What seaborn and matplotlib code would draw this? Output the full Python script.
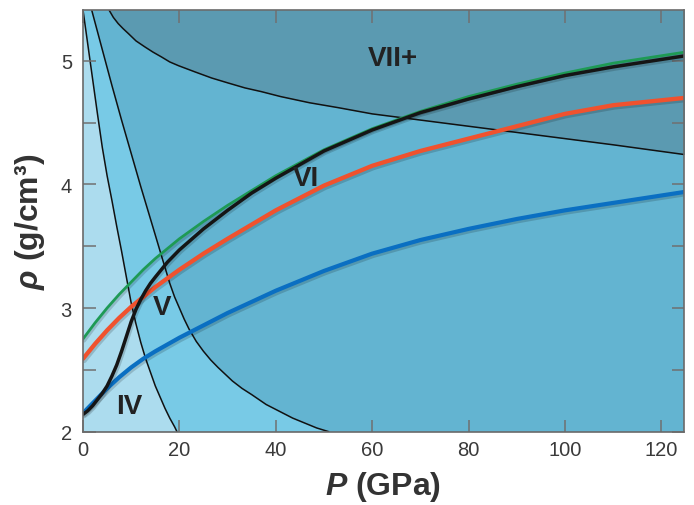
import numpy as np
import matplotlib
matplotlib.use("Agg")
import matplotlib.pyplot as plt
import matplotlib.patheffects as pe
import seaborn as sns

# ---------------- data ----------------
# colored density curves rho(P)
P_green = [0, 2.5, 5, 7.5, 10, 12.5, 15, 17.5, 20, 25, 30, 35, 40, 50, 60, 70, 80, 90, 100, 110, 120, 125]
rho_green = [2.75, 2.88, 3.00, 3.11, 3.21, 3.31, 3.40, 3.48, 3.56, 3.70, 3.83, 3.95, 4.07, 4.28, 4.45, 4.59, 4.71, 4.81, 4.90, 4.98, 5.04, 5.07]

P_black = [0, 1, 2, 3, 4, 5, 6, 7, 8, 9, 10, 11, 12, 13, 14, 15, 17.5, 20, 25, 30, 35, 40, 50, 60, 70, 80, 90, 100, 110, 120, 125]
rho_black = [2.14, 2.17, 2.21, 2.26, 2.31, 2.37, 2.45, 2.54, 2.65, 2.77, 2.89, 2.99, 3.07, 3.14, 3.20, 3.25, 3.37, 3.47, 3.64, 3.79, 3.93, 4.05, 4.27, 4.44, 4.58, 4.69, 4.79, 4.88, 4.95, 5.01, 5.04]

P_red = [0, 2.5, 5, 7.5, 10, 12.5, 15, 20, 25, 30, 40, 50, 60, 70, 80, 90, 100, 110, 120, 125]
rho_red = [2.59, 2.71, 2.82, 2.92, 3.01, 3.09, 3.17, 3.31, 3.44, 3.56, 3.79, 3.99, 4.15, 4.27, 4.37, 4.47, 4.57, 4.64, 4.68, 4.70]

P_blue = [0, 2.5, 5, 7.5, 10, 12.5, 15, 20, 25, 30, 35, 40, 45, 50, 55, 60, 70, 80, 90, 100, 110, 120, 125]
rho_blue = [2.15, 2.25, 2.35, 2.44, 2.52, 2.59, 2.65, 2.76, 2.86, 2.96, 3.05, 3.14, 3.22, 3.30, 3.37, 3.44, 3.55, 3.64, 3.72, 3.79, 3.85, 3.91, 3.94]

# phase boundaries
P_b1 = [0, 1, 2, 3, 4, 5, 6, 7, 8, 9, 10, 11, 12, 13, 14, 15, 16, 17, 18, 19, 19.5]
rho_b1 = [5.41, 5.13, 4.85, 4.57, 4.30, 4.07, 3.87, 3.66, 3.46, 3.25, 3.04, 2.87, 2.72, 2.59, 2.48, 2.37, 2.28, 2.19, 2.11, 2.04, 2.0]

P_b2 = [1.8, 4, 6, 8, 10, 12, 14, 15, 16.3, 17, 18, 19, 20, 21, 22, 23.5, 25, 26.5, 28, 31, 33, 35, 38, 41, 43.5, 46, 48.5, 51]
rho_b2 = [5.41, 5.09, 4.80, 4.52, 4.25, 3.98, 3.72, 3.59, 3.42, 3.33, 3.20, 3.09, 3.00, 2.91, 2.83, 2.73, 2.65, 2.58, 2.52, 2.41, 2.35, 2.30, 2.22, 2.16, 2.11, 2.07, 2.03, 2.0]

P_b7 = [5.4, 6.3, 7.3, 8.3, 9.4, 11, 12.9, 14.5, 16.3, 18, 19.8, 23.2, 26.7, 30.1, 33.6, 37, 41, 47, 53, 60, 70, 80, 90, 100, 110, 125]
rho_b7 = [5.41, 5.35, 5.30, 5.26, 5.22, 5.16, 5.11, 5.07, 5.03, 4.99, 4.96, 4.91, 4.86, 4.82, 4.78, 4.75, 4.71, 4.66, 4.62, 4.57, 4.52, 4.47, 4.42, 4.37, 4.32, 4.24]

region_labels = ["IV", "V", "VI", "VII+"]
region_P = [9.5, 16.5, 46.2, 64.3]
region_rho = [2.21, 3.01, 4.05, 5.025]

x_ticks = [0, 20, 40, 60, 80, 100, 120]
y_ticks = [2, 3, 4, 5]
y_minor = [2.5, 3.5, 4.5]

XMIN, XMAX = 0, 124.7
YMIN, YMAX = 2, 5.41

# ---------------- styling ----------------
sns.set_theme(style="white")
plt.rcParams["font.family"] = ["Liberation Sans", "DejaVu Sans"]
plt.rcParams["mathtext.fontset"] = "custom"
plt.rcParams["mathtext.it"] = "Liberation Sans:italic:bold"
plt.rcParams["mathtext.rm"] = "Liberation Sans:bold"
plt.rcParams["mathtext.bf"] = "Liberation Sans:bold"

fig = plt.figure(figsize=(6.94, 5.06), dpi=100)
fig.patch.set_facecolor("white")
ax = fig.add_axes([83 / 694, 1 - 432.7 / 506, (684 - 83) / 694, (432.7 - 11) / 506])

c_VI = "#63b4d1"
c_V = "#78cae6"
c_IV = "#acdcee"
c_VII = "#5b9ab1"

ax.set_facecolor(c_VI)
ax.set_xlim(XMIN, XMAX)
ax.set_ylim(YMIN, YMAX)

# region fills
ax.fill(np.r_[0, P_b2, 0], np.r_[YMAX, rho_b2, YMIN], color=c_V, lw=0, zorder=1)
ax.fill(np.r_[0, P_b1], np.r_[YMIN, rho_b1], color=c_IV, lw=0, zorder=1.1)
ax.fill_between(P_b7, rho_b7, YMAX, color=c_VII, lw=0, zorder=1.2)

# boundaries
for px, py in [(P_b1, rho_b1), (P_b2, rho_b2), (P_b7, rho_b7)]:
    sns.lineplot(x=px, y=py, ax=ax, color="#111111", lw=1.1, sort=False,
                 estimator=None, zorder=2)

shadow = [pe.SimpleLineShadow(offset=(1.0, -1.6), shadow_color="black", alpha=0.16), pe.Normal()]
sns.lineplot(x=P_blue, y=rho_blue, ax=ax, color="#0a6fc2", lw=3.0, sort=False,
             estimator=None, zorder=3, path_effects=shadow)
sns.lineplot(x=P_red, y=rho_red, ax=ax, color="#f0522e", lw=3.1, sort=False,
             estimator=None, zorder=3.1, path_effects=shadow)
sns.lineplot(x=P_green, y=rho_green, ax=ax, color="#1e9a55", lw=2.0, sort=False,
             estimator=None, zorder=3.2, path_effects=shadow)
sns.lineplot(x=P_black, y=rho_black, ax=ax, color="#151515", lw=2.5, sort=False,
             estimator=None, zorder=3.3, path_effects=shadow)

for lab, px, py in zip(region_labels, region_P, region_rho):
    ax.text(px, py, lab, ha="center", va="center", fontsize=20, fontweight="bold",
            color="#222222", zorder=5)

# axes, ticks
ax.set_axisbelow(False)
for s in ax.spines.values():
    s.set_visible(True)
    s.set_color("#6a6a6a")
    s.set_linewidth(1.2)
    s.set_zorder(6)

ax.set_xticks(x_ticks)
ax.set_yticks(y_ticks)
ax.set_yticks(y_minor, minor=True)
ax.tick_params(axis="both", which="both", direction="in", length=9, width=1.1,
               color="#707070", top=True, right=True, bottom=True, left=True,
               labelsize=14.5, labelcolor="#3a3a3a")
ax.tick_params(axis="x", pad=6)
ax.tick_params(axis="y", pad=8)
ax.tick_params(axis="y", which="minor", length=9, width=1.1)
for t in ax.xaxis.get_major_ticks() + ax.yaxis.get_major_ticks() + ax.yaxis.get_minor_ticks():
    t.tick1line.set_zorder(7)
    t.tick2line.set_zorder(7)

ax.set_xlabel(r"$P$ (GPa)", fontsize=23, fontweight="bold", color="#333333", labelpad=7)
ax.set_ylabel("$\\rho$ (g/cm³)", fontsize=23, fontweight="bold", color="#333333", labelpad=10)
ax.grid(False)

fig.savefig("out.png", dpi=100, facecolor="white")
